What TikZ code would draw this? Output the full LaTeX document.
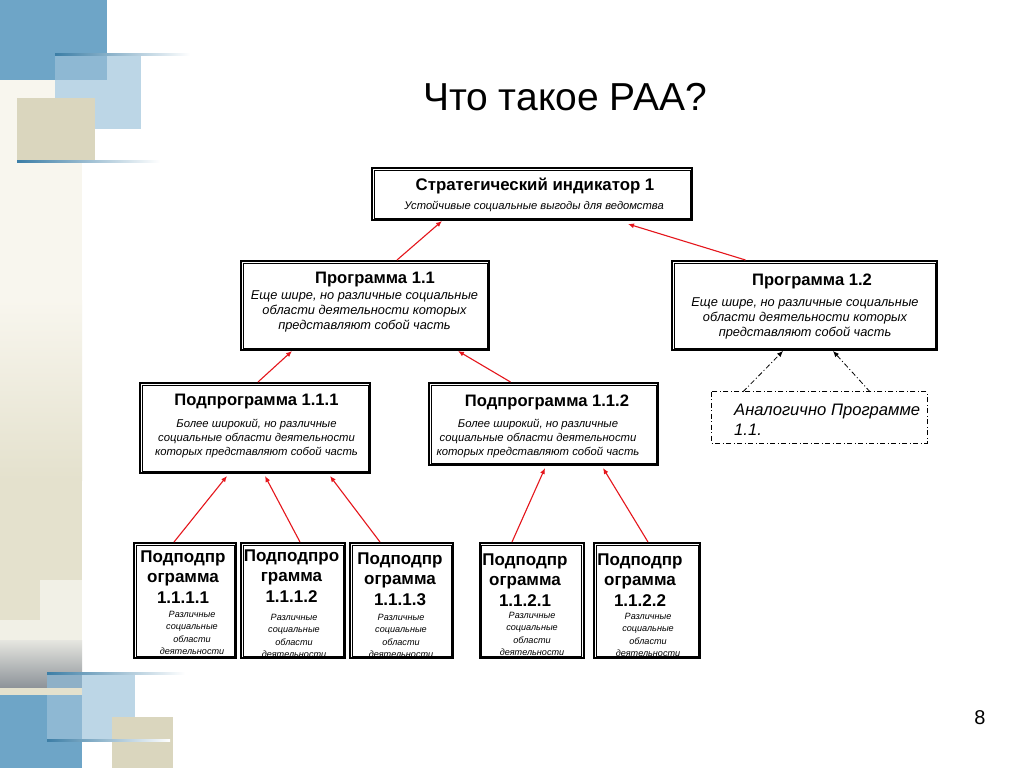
\documentclass[tikz,border=0pt]{standalone}
\usepackage{fontspec}
\setmainfont{Liberation Sans}
\usetikzlibrary{arrows.meta}
\definecolor{dkblue}{HTML}{6EA5C7}
\definecolor{ltblue}{HTML}{BCD6E6}
\definecolor{mdblue}{HTML}{8EB8D3}
\definecolor{beige}{HTML}{DAD6BE}
\definecolor{cream}{HTML}{F8F6EE}
\definecolor{creamdk}{HTML}{E4E1CD}
\definecolor{creamlt}{HTML}{F1F0E6}
\definecolor{tealline}{HTML}{3C7EA6}
\definecolor{grayhi}{HTML}{E6E6E0}
\definecolor{graylo}{HTML}{8C9298}
\definecolor{redarr}{HTML}{E5161C}
\newcommand\fTitle{\fontsize{39}{44}\selectfont}
\newcommand\fHead{\bfseries\fontsize{16.8}{19}\selectfont}
\newcommand\fProg{\bfseries\fontsize{16.6}{19}\selectfont}
\newcommand\fBody{\itshape\fontsize{12.8}{15}\selectfont}
\newcommand\fSub{\itshape\fontsize{11.3}{14}\selectfont}
\newcommand\fTop{\itshape\fontsize{11.2}{13}\selectfont}
\newcommand\fLeaf{\bfseries\fontsize{17}{20.3}\selectfont}
\newcommand\fLeafBody{\itshape\fontsize{9.1}{12.6}\selectfont}
\newcommand\fAn{\itshape\fontsize{16.6}{20}\selectfont}
\begin{document}
\begin{tikzpicture}[x=1pt,y=-1pt,
  dbox/.style={draw, line width=2pt, fill=white, inner sep=0pt},
  innerline/.style={draw, line width=0.6pt},
  txt/.style={inner sep=0pt, align=center, text=black},
  redarrow/.style={draw=redarr, line width=1.1pt, -{Latex[length=6pt,width=5pt]}},
  dashdot/.style={draw=black, line width=0.8pt, dash pattern=on 5pt off 2.5pt on 1pt off 2.5pt},
  dasharrow/.style={dashdot, -{Latex[length=6pt,width=5pt]}}]
\useasboundingbox (0,0) rectangle (1024,768);
\fill[white] (0,0) rectangle (1024,768);
% ---- left decoration ----
\fill[cream] (0,80) rectangle (82,300);
\shade[top color=cream, bottom color=creamdk] (0,300) rectangle (82,480);
\fill[creamdk] (0,480) rectangle (82,625);
\fill[creamlt] (40,580) rectangle (82,640);
\fill[creamlt] (0,620) rectangle (40,640);
\shade[top color=grayhi, bottom color=graylo] (0,640) rectangle (82,688);
\fill[creamdk] (0,688) rectangle (82,695);
\fill[dkblue] (0,695) rectangle (82,768);
\fill[ltblue] (82,673) rectangle (135,740);
\fill[mdblue] (47,695) rectangle (82,740);
\fill[mdblue!80!graylo] (47,673) rectangle (82,688);
\fill[beige] (112,717) rectangle (173,768);
\shade[left color=tealline, right color=white] (47,672) rectangle (185,674);
\shade[left color=tealline, right color=white] (47,739) rectangle (170,741);
% top-left
\fill[dkblue] (0,0) rectangle (107,80);
\fill[ltblue] (107,55) rectangle (141,129);
\fill[ltblue] (55,80) rectangle (107,129);
\fill[mdblue] (55,55) rectangle (107,80);
\fill[beige] (17,98) rectangle (95,162);
\shade[left color=tealline, right color=white] (55,54) rectangle (190,56);
\shade[left color=tealline, right color=white] (17,160) rectangle (160,162);
% ---- title ----
\node[txt, font=\fTitle] (title) at (565,97) {Что такое РАА?};
\node[txt, font=\fontsize{20}{24}\selectfont] (pagenum) at (980,718) {8};
% ---- boxes ----
\node[dbox, minimum width=320pt, minimum height=52pt] (s) at (532,194) {};
\node[dbox, minimum width=248pt, minimum height=89pt] (p11) at (365,305.5) {};
\node[dbox, minimum width=265pt, minimum height=89pt] (p12) at (804.5,305.5) {};
\node[dbox, minimum width=230pt, minimum height=90pt] (sp1) at (255,428) {};
\node[dbox, minimum width=229pt, minimum height=82pt] (sp2) at (543.5,424) {};
\node[draw=none, minimum width=215pt, minimum height=51pt, inner sep=0pt] (an) at (819.5,417.5) {};
\draw[dashdot] (an.north west) rectangle (an.south east);
\node[dbox, minimum width=102pt, minimum height=115pt] (b1) at (185,600.5) {};
\node[dbox, minimum width=104pt, minimum height=115pt] (b2) at (293,600.5) {};
\node[dbox, minimum width=103pt, minimum height=115pt] (b3) at (401.5,600.5) {};
\node[dbox, minimum width=104pt, minimum height=115pt] (b4) at (531.5,600.5) {};
\node[dbox, minimum width=106pt, minimum height=115pt] (b5) at (647,600.5) {};
\foreach \n in {s,p11,p12,sp1,sp2,b1,b2,b3,b4,b5}
  \draw[innerline] ([shift={(2.8pt,-2.8pt)}]\n.north west) rectangle ([shift={(-2.8pt,2.8pt)}]\n.south east);
% ---- texts ----
\node[txt, font=\fHead] (sT) at (535,186) {Стратегический индикатор 1};
\node[txt, font=\fTop] (sB) at (534,206) {Устойчивые социальные выгоды для ведомства};
\node[txt, font=\fProg] (p11T) at (375,280) {Программа 1.1};
\node[txt, font=\fBody] (p11B) at (364.5,311) {Еще шире, но различные социальные\\области деятельности которых\\представляют собой часть};
\node[txt, font=\fProg] (p12T) at (812,281) {Программа 1.2};
\node[txt, font=\fBody] (p12B) at (805,318.5) {Еще шире, но различные социальные\\области деятельности которых\\представляют собой часть};
\node[txt, font=\fProg] (sp1T) at (256.5,401.5) {Подпрограмма 1.1.1};
\node[txt, font=\fSub] (sp1B) at (256.5,438.5) {Более широкий, но различные\\социальные области деятельности\\которых представляют собой часть};
\node[txt, font=\fProg] (sp2T) at (547,402.5) {Подпрограмма 1.1.2};
\node[txt, font=\fSub] (sp2B) at (538,438) {Более широкий, но различные\\социальные области деятельности\\которых представляют собой часть};
\node[txt, font=\fAn, align=left, anchor=west] (anT) at (734,419.5) {Аналогично Программе\\1.1.};
\node[txt, font=\fLeaf] (b1T) at (183,577) {Подподпр\\ограмма\\1.1.1.1};
\node[txt, font=\fLeafBody] (b1B) at (192,633) {Различные\\социальные\\области\\деятельности};
\node[txt, font=\fLeaf] (b2T) at (291.5,576) {Подподпро\\грамма\\1.1.1.2};
\node[txt, font=\fLeafBody] (b2B) at (294,636) {Различные\\социальные\\области\\деятельности};
\node[txt, font=\fLeaf] (b3T) at (400,579) {Подподпр\\ограмма\\1.1.1.3};
\node[txt, font=\fLeafBody] (b3B) at (401,636) {Различные\\социальные\\области\\деятельности};
\node[txt, font=\fLeaf] (b4T) at (525,580) {Подподпр\\ограмма\\1.1.2.1};
\node[txt, font=\fLeafBody] (b4B) at (532,634) {Различные\\социальные\\области\\деятельности};
\node[txt, font=\fLeaf] (b5T) at (640,580) {Подподпр\\ограмма\\1.1.2.2};
\node[txt, font=\fLeafBody] (b5B) at (648,635) {Различные\\социальные\\области\\деятельности};
% ---- connectors ----
\draw[redarrow] ([xshift=32pt]p11.north) -- ([xshift=-90pt]s.south);
\draw[redarrow] ([xshift=-59pt]p12.north) -- ([xshift=96pt,yshift=-3pt]s.south);
\draw[redarrow] ([xshift=3pt]sp1.north) -- ([xshift=-73pt]p11.south);
\draw[redarrow] ([xshift=-33pt]sp2.north) -- ([xshift=93pt]p11.south);
\draw[redarrow] ([xshift=-11pt]b1.north) -- ([xshift=-28pt,yshift=-2pt]sp1.south);
\draw[redarrow] ([xshift=7pt]b2.north) -- ([xshift=10pt,yshift=-2pt]sp1.south);
\draw[redarrow] ([xshift=-21.5pt]b3.north) -- ([xshift=75pt,yshift=-2pt]sp1.south);
\draw[redarrow] ([xshift=-19.5pt]b4.north) -- ([xshift=1.5pt,yshift=-2pt]sp2.south);
\draw[redarrow] ([xshift=1pt]b5.north) -- ([xshift=59.5pt,yshift=-2pt]sp2.south);
\draw[dasharrow] ([xshift=-76.5pt]an.north) -- ([xshift=-21.5pt]p12.south);
\draw[dasharrow] ([xshift=50.5pt]an.north) -- ([xshift=28.5pt]p12.south);
\end{tikzpicture}
\end{document}
